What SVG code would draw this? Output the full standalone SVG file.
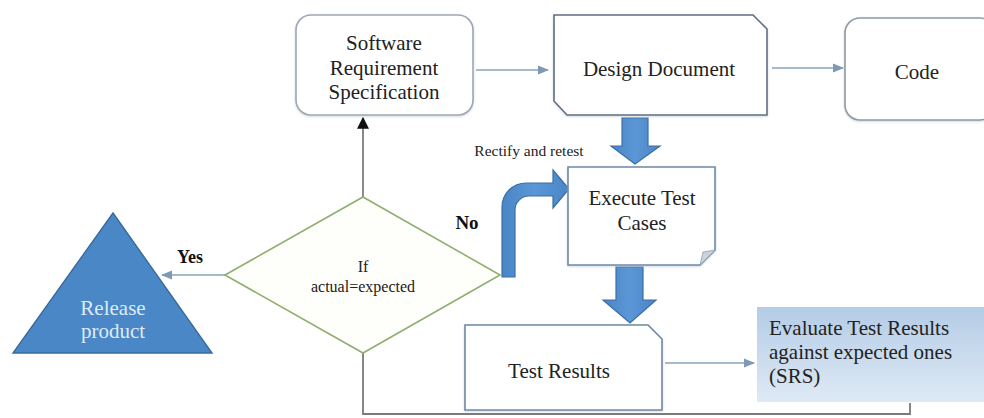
<svg xmlns="http://www.w3.org/2000/svg" width="984" height="418" viewBox="0 0 984 418">
  <defs>
    <style>
      .lbl { font-family: "Liberation Serif", "Times New Roman", serif; fill: #222; text-anchor: middle; }
      .big { font-size: 21px; }
      .small { font-size: 16px; }
      .left { text-anchor: start; }
      .bold { font-weight: bold; fill: #111; }
      .light { fill: #dfebf8; }
      .conn { fill: none; stroke: #8aa3bb; stroke-width: 1.6; }
      .block { fill: url(#blockFill); stroke: #3c6ea3; stroke-width: 1.2; }
    </style>
    <linearGradient id="blockFill" x1="0" y1="0" x2="1" y2="0">
      <stop offset="0" stop-color="#4a86c6"/>
      <stop offset="0.5" stop-color="#5b97d6"/>
      <stop offset="1" stop-color="#4a86c6"/>
    </linearGradient>
    <linearGradient id="evalFill" x1="0" y1="0" x2="0" y2="1">
      <stop offset="0" stop-color="#b4cce6"/>
      <stop offset="1" stop-color="#dee9f5"/>
    </linearGradient>
    <marker id="tipBlue" viewBox="0 0 10 10" refX="9" refY="5" markerWidth="7" markerHeight="7" orient="auto">
      <path d="M0,1 L10,5 L0,9 z" fill="#7d99b5"/>
    </marker>
    <marker id="tipBlack" viewBox="0 0 10 10" refX="9" refY="5" markerWidth="6" markerHeight="6" orient="auto">
      <path d="M0,0 L10,5 L0,10 z" fill="#111"/>
    </marker>
    <filter id="soft" x="-5%" y="-5%" width="110%" height="115%">
      <feDropShadow dx="0" dy="1" stdDeviation="1.2" flood-color="#9fb3c8" flood-opacity="0.5"/>
    </filter>
  </defs>

  <rect width="984" height="418" fill="#ffffff"/>

  <!-- connectors -->
  <g id="connectors">
    <line class="conn" x1="476" y1="70" x2="548" y2="70" marker-end="url(#tipBlue)"/>
    <line class="conn" x1="772" y1="68" x2="843" y2="68" marker-end="url(#tipBlue)"/>
    <line class="conn" x1="665" y1="363" x2="754" y2="363" marker-end="url(#tipBlue)"/>
    <line class="conn" x1="225" y1="275" x2="162" y2="275" marker-end="url(#tipBlue)"/>
    <line x1="363" y1="197" x2="363" y2="118" stroke="#8a8a8a" stroke-width="2" marker-end="url(#tipBlack)"/>
    <polyline points="910,403 910,414 363,414 363,353" fill="none" stroke="#7a7a7a" stroke-width="1.8"/>
    <!-- block arrows -->
    <path class="block" d="M622,118 H648 V146 H660 L635,164 L611,146 H622 Z"/>
    <path class="block" d="M616,267 H643 V300 H656 L630,323 L603,300 H616 Z"/>
    <path class="block" d="M502,277 V207 A24,24 0 0 1 526,183 H553 V170 L569,189 L553,208 V196 H529 A14,14 0 0 0 515,210 V277 Z"/>
  </g>

  <g id="label-rectify">
    <text class="lbl small" x="529" y="156" style="font-size:15.5px">Rectify and retest</text>
  </g>
  <g id="label-no">
    <text class="lbl bold" x="467" y="229" font-size="19px">No</text>
  </g>
  <g id="label-yes">
    <text class="lbl bold" x="190" y="263" font-size="18px">Yes</text>
  </g>

  <!-- Software Requirement Specification -->
  <g id="srs">
    <rect x="296" y="15" width="177" height="100" rx="15" fill="#ffffff" stroke="#9ea8b3" stroke-width="1.6" filter="url(#soft)"/>
    <text class="lbl big" x="384" y="50">Software</text>
    <text class="lbl big" x="384" y="75">Requirement</text>
    <text class="lbl big" x="384" y="99">Specification</text>
  </g>

  <!-- Design Document -->
  <g id="design">
    <path d="M554,15 H753 L767,29 V115 H567 L554,101 Z" fill="#ffffff" stroke="#5f6f80" stroke-width="1.6" filter="url(#soft)"/>
    <text class="lbl big" x="659" y="76">Design Document</text>
  </g>

  <!-- Code -->
  <g id="code">
    <rect x="845" y="18" width="150" height="102" rx="15" fill="#ffffff" stroke="#8f9aa5" stroke-width="1.6" filter="url(#soft)"/>
    <text class="lbl big" x="917" y="79">Code</text>
  </g>

  <!-- Execute Test Cases -->
  <g id="execute">
    <path d="M568,167 H715 V250 L700,265 H568 Z" fill="#ffffff" stroke="#6d89a8" stroke-width="1.6" filter="url(#soft)"/>
    <path d="M715,250 L700,265 L703,252 Z" fill="#c9d3dd" stroke="#8e9fb0" stroke-width="0.8"/>
    <text class="lbl big" x="642" y="205">Execute Test</text>
    <text class="lbl big" x="642" y="230">Cases</text>
  </g>

  <!-- Test Results -->
  <g id="test-results">
    <path d="M465,325 H648 L662,339 V410 H465 Z" fill="#ffffff" stroke="#6f88a3" stroke-width="1.6" filter="url(#soft)"/>
    <text class="lbl big" x="559" y="378">Test Results</text>
  </g>

  <!-- Evaluate Test Results -->
  <g id="evaluate">
    <rect x="757" y="307" width="230" height="95" fill="url(#evalFill)"/>
    <text class="lbl big left" x="769" y="335">Evaluate Test Results</text>
    <text class="lbl big left" x="769" y="359">against expected ones</text>
    <text class="lbl big left" x="769" y="383">(SRS)</text>
  </g>

  <!-- Decision -->
  <g id="decision">
    <polygon points="363,197 500,275 363,353 225,275" fill="#fefefb" stroke="#8fae6f" stroke-width="1.6"/>
    <text class="lbl small" x="363" y="272">If</text>
    <text class="lbl small" x="363" y="292">actual=expected</text>
  </g>

  <!-- Release product -->
  <g id="release">
    <polygon points="113,213 212,353 13,353" fill="#4a87c7" stroke="#3a6a9c" stroke-width="1.4"/>
    <text class="lbl big light" x="113" y="315">Release</text>
    <text class="lbl big light" x="113" y="338">product</text>
  </g>
</svg>
